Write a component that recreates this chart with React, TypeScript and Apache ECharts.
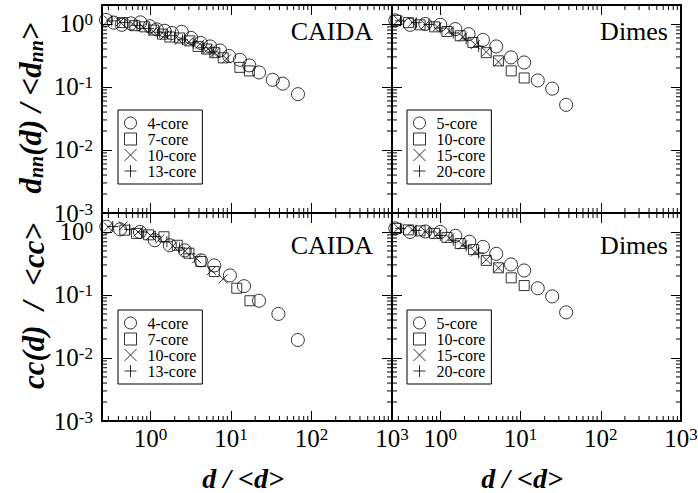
import React, { useEffect, useRef } from "react";
import * as echarts from "echarts";

// ---------- data ----------
// CAIDA, d_nn(d)/<d_nn>
const caidaDnn4X = [0.28, 0.35, 0.44, 0.57, 0.75, 0.98, 1.2, 1.5, 1.85, 2.45, 3.2, 4.2, 5.5, 7.3, 9.5, 12.9, 16.9, 22.3, 33, 44, 68];
const caidaDnn4Y = [1.16, 1.05, 0.97, 1.02, 1.06, 0.92, 0.82, 0.78, 0.72, 0.75, 0.6, 0.5, 0.44, 0.38, 0.31, 0.27, 0.22, 0.17, 0.13, 0.113, 0.077];
const caidaDnn7X = [0.45, 0.64, 0.85, 1.1, 1.41, 1.74, 2.3, 3.09, 3.9, 5.0, 6.3, 8.0, 12.9, 16.9];
const caidaDnn7Y = [1.05, 0.94, 0.9, 0.8, 0.69, 0.62, 0.6, 0.54, 0.44, 0.4, 0.35, 0.29, 0.205, 0.18];
const caidaDnn10X = [0.3, 0.42, 0.6, 0.8, 1.08, 1.5, 2.27, 3.0, 4.1, 5.2, 6.3, 8.8];
const caidaDnn10Y = [1.15, 1.08, 1.0, 0.9, 0.76, 0.66, 0.55, 0.52, 0.48, 0.4, 0.35, 0.28];
const caidaDnn13X = [0.33, 0.48, 0.68, 0.95, 1.3, 1.8, 2.5, 3.4, 4.5, 6.0];
const caidaDnn13Y = [1.12, 1.06, 0.95, 0.85, 0.74, 0.65, 0.56, 0.5, 0.42, 0.36];

// Dimes, d_nn(d)/<d_nn>
const dimesDnn5X = [0.275, 0.42, 0.65, 1.0, 1.54, 2.25, 3.4, 4.98, 7.6, 11.1, 16.4, 24.8, 37];
const dimesDnn5Y = [1.14, 0.97, 1.0, 0.97, 0.83, 0.69, 0.56, 0.44, 0.295, 0.245, 0.127, 0.094, 0.052];
const dimesDnn10X = [0.28, 0.4, 0.56, 0.85, 1.21, 1.77, 2.55, 3.74, 5.3, 7.65, 11.1];
const dimesDnn10Y = [1.14, 1.05, 0.97, 0.9, 0.76, 0.65, 0.51, 0.35, 0.26, 0.18, 0.139];
const dimesDnn15X = [0.3, 0.45, 0.65, 0.92, 1.3, 1.9, 2.73, 3.74, 5.3];
const dimesDnn15Y = [1.15, 1.06, 0.98, 0.9, 0.78, 0.62, 0.47, 0.36, 0.25];
const dimesDnn20X = [0.32, 0.5, 0.72, 1.0, 1.45, 2.1, 3.0];
const dimesDnn20Y = [1.12, 1.05, 0.98, 0.86, 0.72, 0.58, 0.44];

// CAIDA, cc(d)/<cc>
const caidaCc4X = [0.283, 0.42, 0.74, 1.13, 1.74, 2.67, 4.23, 6.2, 9.7, 14.5, 22.3, 38.8, 67.7];
const caidaCc4Y = [1.21, 1.1, 1.0, 0.74, 0.615, 0.51, 0.354, 0.294, 0.204, 0.138, 0.081, 0.05, 0.0193];
const caidaCc7X = [0.48, 0.67, 0.95, 1.47, 2.15, 3.0, 4.23, 6.2, 11.8, 17.2];
const caidaCc7Y = [1.07, 0.95, 0.9, 0.84, 0.615, 0.46, 0.34, 0.236, 0.128, 0.081];
const caidaCc10X = [0.3, 0.46, 0.7, 1.0, 1.3, 1.9, 2.7, 3.74, 5.75, 8.0];
const caidaCc10Y = [1.2, 1.25, 1.0, 0.88, 0.77, 0.6, 0.5, 0.376, 0.245, 0.18];
const caidaCc13X = [0.34, 0.55, 0.8, 1.15, 1.6, 2.3, 3.1];
const caidaCc13Y = [1.22, 1.1, 1.0, 0.85, 0.7, 0.56, 0.45];

// Dimes, cc(d)/<cc>
const dimesCc5X = [0.275, 0.42, 0.65, 1.0, 1.54, 2.3, 3.4, 4.98, 7.6, 11.1, 16.4, 24.8, 37];
const dimesCc5Y = [1.14, 1.0, 1.02, 1.0, 0.87, 0.7, 0.58, 0.45, 0.305, 0.245, 0.128, 0.095, 0.053];
const dimesCc10X = [0.28, 0.4, 0.56, 0.85, 1.21, 1.77, 2.6, 3.74, 5.3, 7.65, 11.1];
const dimesCc10Y = [1.14, 1.08, 1.04, 0.95, 0.82, 0.655, 0.525, 0.354, 0.27, 0.187, 0.141];
const dimesCc15X = [0.3, 0.45, 0.65, 0.92, 1.3, 1.9, 2.73, 3.74, 5.3];
const dimesCc15Y = [1.15, 1.08, 1.02, 0.93, 0.8, 0.62, 0.48, 0.363, 0.27];
const dimesCc20X = [0.32, 0.5, 0.72, 1.0, 1.45, 2.1, 3.0];
const dimesCc20Y = [1.14, 1.06, 1.0, 0.88, 0.74, 0.6, 0.46];

const caidaNames = ["4-core", "7-core", "10-core", "13-core"];
const dimesNames = ["5-core", "10-core", "15-core", "20-core"];
const panelLabels = ["CAIDA", "Dimes", "CAIDA", "Dimes"];

const xRange = [0.25, 1000];
const yRange = [0.001, 2];
const minorMultipliers = [2, 3, 4, 5, 6, 7, 8, 9];
const minorDecadesX = [-1, 0, 1, 2];
const minorDecadesY = [-3, -2, -1, 0];

// ---------- styling ----------
const FONT = "'Liberation Serif', 'Times New Roman', serif";
const SYMBOLS: [string, number][] = [
  ["circle", 13],
  ["path://M0,0L10,0L10,10L0,10Z", 10],
  ["path://M0,0L10,10M10,0L0,10", 9],
  ["path://M5,0L5,10M0,5L10,5", 11],
];

const grids = [
  { left: 102, top: 5, width: 290, height: 208 },
  { left: 392, top: 5, width: 289, height: 208 },
  { left: 102, top: 213, width: 290, height: 208 },
  { left: 392, top: 213, width: 289, height: 208 },
];

function powLabel(v: number) {
  const l = Math.log10(v);
  const e = Math.round(l);
  if (Math.abs(l - e) > 1e-6) return "";
  return `{b|10}{s|${e}}`;
}

const labelRich = {
  b: { fontSize: 25, lineHeight: 25, fontFamily: FONT, color: "#000", padding: [9, 0, 0, 0], verticalAlign: "bottom" },
  s: { fontSize: 17, lineHeight: 17, fontFamily: FONT, color: "#000", verticalAlign: "top" },
};

function logAxis(gi: number, range: number[], position: string, showLabel: boolean, margin: number) {
  return {
    type: "log",
    logBase: 10,
    gridIndex: gi,
    min: range[0],
    max: range[1],
    position,
    axisLine: { show: true, onZero: false, lineStyle: { color: "#000", width: 2 } },
    axisTick: { show: true, inside: true, length: 10, lineStyle: { color: "#000", width: 1 } },
    minorTick: { show: false },
    splitLine: { show: false },
    axisLabel: {
      show: showLabel,
      interval: 0,
      margin,
      formatter: powLabel,
      rich: labelRich,
    },
  };
}

function minorTickSeries(gi: number) {
  const xs: number[][] = [];
  minorDecadesX.forEach((k) =>
    minorMultipliers.forEach((m) => {
      const v = m * Math.pow(10, k);
      if (v > xRange[0] && v < xRange[1]) xs.push([v, 1]);
    })
  );
  const ys: number[][] = [];
  minorDecadesY.forEach((k) =>
    minorMultipliers.forEach((m) => {
      const v = m * Math.pow(10, k);
      if (v > yRange[0] && v < yRange[1]) ys.push([1, v]);
    })
  );
  const st = { stroke: "#000", lineWidth: 1 };
  return [
    {
      type: "custom",
      xAxisIndex: 2 * gi,
      yAxisIndex: 2 * gi,
      silent: true,
      clip: false,
      z: 2,
      data: xs,
      renderItem: (params: any, api: any) => {
        const p = api.coord([api.value(0), 1]);
        const cs = params.coordSys;
        return {
          type: "group",
          children: [
            { type: "line", shape: { x1: p[0], y1: cs.y, x2: p[0], y2: cs.y + 5 }, style: st },
            { type: "line", shape: { x1: p[0], y1: cs.y + cs.height, x2: p[0], y2: cs.y + cs.height - 5 }, style: st },
          ],
        };
      },
    },
    {
      type: "custom",
      xAxisIndex: 2 * gi,
      yAxisIndex: 2 * gi,
      silent: true,
      clip: false,
      z: 2,
      data: ys,
      renderItem: (params: any, api: any) => {
        const p = api.coord([1, api.value(1)]);
        const cs = params.coordSys;
        return {
          type: "group",
          children: [
            { type: "line", shape: { x1: cs.x, y1: p[1], x2: cs.x + 5, y2: p[1] }, style: st },
            { type: "line", shape: { x1: cs.x + cs.width, y1: p[1], x2: cs.x + cs.width - 5, y2: p[1] }, style: st },
          ],
        };
      },
    },
  ];
}

function scatter(gi: number, name: string, xs: number[], ys: number[], si: number) {
  return {
    type: "scatter",
    name,
    xAxisIndex: 2 * gi,
    yAxisIndex: 2 * gi,
    data: xs.map((x, i) => [x, ys[i]]),
    symbol: SYMBOLS[si][0],
    symbolSize: SYMBOLS[si][1],
    itemStyle: { color: "rgba(0,0,0,0)", borderColor: "#000", borderWidth: 1 },
    silent: true,
    z: 3,
  };
}

function legend(left: number, top: number, names: string[]) {
  return {
    orient: "vertical",
    left,
    top,
    padding: [5, 6, 5, 6],
    itemWidth: 24,
    itemHeight: 12,
    itemGap: 0,
    borderColor: "#000",
    borderWidth: 1,
    backgroundColor: "#fff",
    selectedMode: false,
    data: names.map((n, i) => ({ name: n, icon: SYMBOLS[i][0] })),
    textStyle: { fontFamily: FONT, fontSize: 16, color: "#000" },
    itemStyle: { color: "rgba(0,0,0,0)", borderWidth: 1, borderColor: "#000" },
  };
}

function buildOption() {
  const xAxis: any[] = [];
  const yAxis: any[] = [];
  grids.forEach((_, gi) => {
    const bottomRow = gi >= 2;
    const leftCol = gi % 2 === 0;
    xAxis.push(logAxis(gi, xRange, "bottom", bottomRow, 5));
    xAxis.push(logAxis(gi, xRange, "top", false, 5));
    yAxis.push(logAxis(gi, yRange, "left", leftCol, 9));
    yAxis.push(logAxis(gi, yRange, "right", false, 9));
  });

  const series: any[] = [];
  grids.forEach((_, gi) => series.push(...minorTickSeries(gi)));
  series.push(
    scatter(0, caidaNames[0], caidaDnn4X, caidaDnn4Y, 0),
    scatter(0, caidaNames[1], caidaDnn7X, caidaDnn7Y, 1),
    scatter(0, caidaNames[2], caidaDnn10X, caidaDnn10Y, 2),
    scatter(0, caidaNames[3], caidaDnn13X, caidaDnn13Y, 3),
    scatter(1, dimesNames[0], dimesDnn5X, dimesDnn5Y, 0),
    scatter(1, dimesNames[1], dimesDnn10X, dimesDnn10Y, 1),
    scatter(1, dimesNames[2], dimesDnn15X, dimesDnn15Y, 2),
    scatter(1, dimesNames[3], dimesDnn20X, dimesDnn20Y, 3),
    scatter(2, caidaNames[0], caidaCc4X, caidaCc4Y, 0),
    scatter(2, caidaNames[1], caidaCc7X, caidaCc7Y, 1),
    scatter(2, caidaNames[2], caidaCc10X, caidaCc10Y, 2),
    scatter(2, caidaNames[3], caidaCc13X, caidaCc13Y, 3),
    scatter(3, dimesNames[0], dimesCc5X, dimesCc5Y, 0),
    scatter(3, dimesNames[1], dimesCc10X, dimesCc10Y, 1),
    scatter(3, dimesNames[2], dimesCc15X, dimesCc15Y, 2),
    scatter(3, dimesNames[3], dimesCc20X, dimesCc20Y, 3)
  );

  const xTitleTok = { fontSize: 28, lineHeight: 28, fontWeight: "bold", fontStyle: "italic", fontFamily: FONT, fill: "#000" };
  const titleTok = { fontSize: 31, lineHeight: 31, fontWeight: "bold", fontStyle: "italic", fontFamily: FONT, fill: "#000" };
  const subTok = { fontSize: 20, lineHeight: 20, fontWeight: "bold", fontStyle: "italic", fontFamily: FONT, fill: "#000" };

  const panelTextPos = [
    { x: 373, y: 31 },
    { x: 668, y: 31 },
    { x: 373, y: 245 },
    { x: 668, y: 245 },
  ];

  const graphic: any[] = panelLabels.map((t, i) => ({
    type: "text",
    x: panelTextPos[i].x,
    y: panelTextPos[i].y,
    z: 10,
    style: { text: t, fontSize: 26, fontFamily: FONT, fill: "#000", align: "right", verticalAlign: "middle" },
  }));
  graphic.push(
    {
      type: "text",
      x: 243,
      y: 478,
      style: { text: "d / <d>", ...xTitleTok, align: "center", verticalAlign: "middle" },
    },
    {
      type: "text",
      x: 522,
      y: 478,
      style: { text: "d / <d>", ...xTitleTok, align: "center", verticalAlign: "middle" },
    },
    {
      type: "text",
      x: 30,
      y: 108,
      rotation: Math.PI / 2,
      style: {
        text: "{m|d}{n|nn}{m|(d) / <d}{n|nn}{m|>}",
        rich: {
          m: { ...titleTok, verticalAlign: "top" },
          n: { ...subTok, padding: [21, 0, 0, 0], verticalAlign: "bottom" },
        },
        fill: "#000",
        align: "center",
        verticalAlign: "middle",
      },
    },
    {
      type: "text",
      x: 33,
      y: 306,
      rotation: Math.PI / 2,
      style: { text: "cc(d)  /  <cc>", ...titleTok, align: "center", verticalAlign: "middle" },
    }
  );

  return {
    animation: false,
    backgroundColor: "#fff",
    grid: grids.map((g) => ({ ...g, containLabel: false, outerBoundsMode: "none" })),
    xAxis,
    yAxis,
    legend: [
      legend(118, 110, caidaNames),
      legend(407, 110, dimesNames),
      legend(118, 310, caidaNames),
      legend(407, 310, dimesNames),
    ],
    series,
    graphic,
  };
}

export default function App() {
  const ref = useRef<HTMLDivElement>(null);
  useEffect(() => {
    const chart = echarts.init(ref.current!, null, { renderer: "svg" });
    chart.setOption(buildOption() as any);
    return () => chart.dispose();
  }, []);
  return (
    <div
      ref={ref}
      style={{ position: "fixed", left: 0, top: 0, width: 698, height: 493, background: "#fff" }}
    />
  );
}
